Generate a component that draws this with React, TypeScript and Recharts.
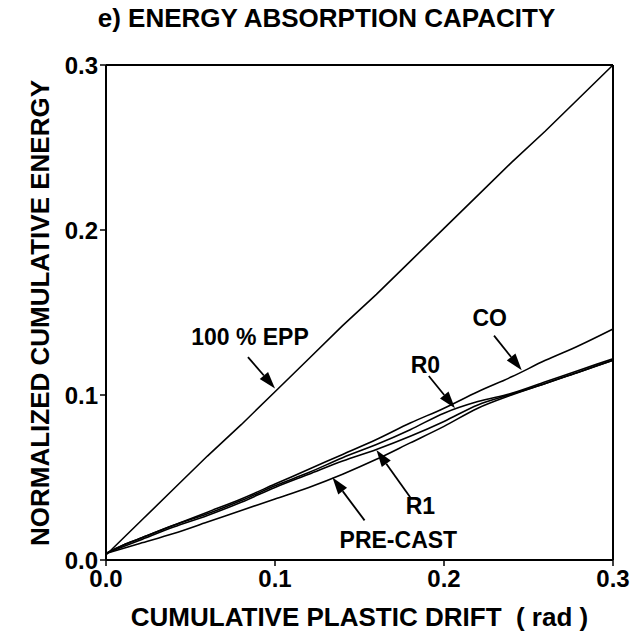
import React from 'react';
import { LineChart, Line, XAxis, YAxis, ReferenceLine, ReferenceDot, Label } from 'recharts';

const drift = [0, 0.01, 0.02, 0.04, 0.06, 0.08, 0.1, 0.12, 0.14, 0.16, 0.18, 0.2, 0.22, 0.24, 0.26, 0.28, 0.3];
const epp = [0.003, 0.013, 0.023, 0.043, 0.063, 0.082, 0.102, 0.122, 0.142, 0.161, 0.181, 0.201, 0.221, 0.241, 0.26, 0.28, 0.3];
const co = [0.004, 0.009, 0.013, 0.021, 0.029, 0.037, 0.046, 0.055, 0.064, 0.073, 0.083, 0.092, 0.102, 0.111, 0.121, 0.13, 0.14];
const r0 = [0.004, 0.009, 0.013, 0.021, 0.028, 0.036, 0.045, 0.053, 0.062, 0.07, 0.079, 0.089, 0.096, 0.101, 0.108, 0.115, 0.122];
const r1 = [0.004, 0.008, 0.012, 0.02, 0.027, 0.035, 0.044, 0.052, 0.06, 0.067, 0.075, 0.084, 0.094, 0.1005, 0.107, 0.114, 0.121];
const preCast = [0.004, 0.007, 0.01, 0.016, 0.023, 0.03, 0.037, 0.044, 0.052, 0.061, 0.071, 0.081, 0.092, 0.1, 0.107, 0.114, 0.121];
const axisTicks = [0, 0.1, 0.2, 0.3];

const annotationText = ['100 % EPP', 'CO', 'R0', 'R1', 'PRE-CAST'];
const labelX = [0.0852, 0.227, 0.189, 0.186, 0.173];
const labelY = [0.135, 0.147, 0.118, 0.033, 0.012];
const tailX = [0.084, 0.2296, 0.191, 0.18, 0.153];
const tailY = [0.123, 0.136, 0.1115, 0.038, 0.024];
const tipX = [0.1, 0.246, 0.2065, 0.16, 0.134];
const tipY = [0.104, 0.115, 0.092, 0.0667, 0.05];

const data = drift.map((x, i) => ({ x, epp: epp[i], co: co[i], r0: r0[i], r1: r1[i], pre: preCast[i] }));

const FONT = '"Liberation Sans", Arial, Helvetica, sans-serif';

const Arrow = (p: any) => {
  const { x1, y1, x2, y2 } = p;
  const dx = x2 - x1;
  const dy = y2 - y1;
  const len = Math.hypot(dx, dy) || 1;
  const ux = dx / len;
  const uy = dy / len;
  const hl = 17;
  const hw = 5.5;
  const bx = x2 - ux * hl;
  const by = y2 - uy * hl;
  return (
    <g>
      <line x1={x1} y1={y1} x2={bx} y2={by} stroke="#000" strokeWidth={1.8} />
      <polygon points={`${x2},${y2} ${bx - uy * hw},${by + ux * hw} ${bx + uy * hw},${by - ux * hw}`} fill="#000" />
    </g>
  );
};

const fmt = (v: number) => v.toFixed(1);
const tickStyle = { fontSize: 24, fontWeight: 'bold', fill: '#000', fontFamily: FONT };

export default function App() {
  return (
    <div style={{ position: 'absolute', left: 0, top: 0, width: 637, height: 634, background: '#fff', fontFamily: FONT }}>
      <LineChart width={637} height={634} data={data} margin={{ top: 65, right: 24, bottom: 0, left: 0 }} style={{ fontFamily: FONT }}>
        <XAxis
          dataKey="x"
          type="number"
          domain={[0, 0.3]}
          ticks={axisTicks}
          tickFormatter={fmt}
          height={74}
          tickSize={6}
          tickMargin={4}
          tick={tickStyle}
          axisLine={{ stroke: '#000', strokeWidth: 2 }}
          tickLine={{ stroke: '#000', strokeWidth: 1.5 }}
        >
          <Label value={'CUMULATIVE PLASTIC DRIFT\u00a0 ( rad )'} position="insideBottom" offset={8} style={{ fontSize: 26, fontWeight: 'bold', fill: '#000', fontFamily: FONT }} />
        </XAxis>
        <YAxis
          type="number"
          domain={[0, 0.3]}
          ticks={axisTicks}
          tickFormatter={fmt}
          width={106}
          tickSize={6}
          tick={tickStyle}
          axisLine={{ stroke: '#000', strokeWidth: 2 }}
          tickLine={{ stroke: '#000', strokeWidth: 1.5 }}
        />
        <ReferenceLine y={0.3} stroke="#000" strokeWidth={2} />
        <ReferenceLine x={0.3} stroke="#000" strokeWidth={2} />
        <Line dataKey="epp" stroke="#000" strokeWidth={1.6} dot={false} isAnimationActive={false} type="linear" />
        <Line dataKey="co" stroke="#000" strokeWidth={1.6} dot={false} isAnimationActive={false} type="monotone" />
        <Line dataKey="r0" stroke="#000" strokeWidth={1.6} dot={false} isAnimationActive={false} type="monotone" />
        <Line dataKey="r1" stroke="#000" strokeWidth={1.6} dot={false} isAnimationActive={false} type="monotone" />
        <Line dataKey="pre" stroke="#000" strokeWidth={1.6} dot={false} isAnimationActive={false} type="monotone" />
        {annotationText.map((t, i) => (
          <ReferenceLine
            key={'a' + i}
            segment={[{ x: tailX[i], y: tailY[i] }, { x: tipX[i], y: tipY[i] }]}
            shape={Arrow}
          />
        ))}
        {annotationText.map((t, i) => (
          <ReferenceDot key={'l' + i} x={labelX[i]} y={labelY[i]} r={0} fill="none" stroke="none">
            <Label value={t} position="center" style={{ fontSize: 23, fontWeight: 'bold', fill: '#000', fontFamily: FONT }} />
          </ReferenceDot>
        ))}
      </LineChart>
      <div style={{ position: 'absolute', left: 0, width: 637, top: 3, textAlign: 'center', fontSize: 26, fontWeight: 'bold', paddingLeft: 16, boxSizing: 'border-box', whiteSpace: 'pre' }}>
        e) ENERGY ABSORPTION CAPACITY
      </div>
      <div style={{ position: 'absolute', left: 40, top: 313, width: 0, height: 0 }}>
        <div style={{ position: 'absolute', transform: 'translate(-50%, -50%) rotate(-90deg)', fontSize: 26, fontWeight: 'bold', whiteSpace: 'nowrap' }}>
          NORMALIZED CUMULATIVE ENERGY
        </div>
      </div>
    </div>
  );
}
